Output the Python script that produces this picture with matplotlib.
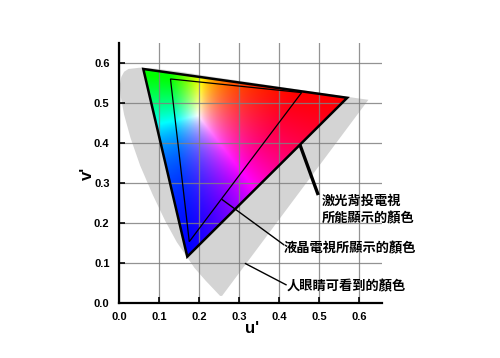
import numpy as np
import matplotlib
matplotlib.use('Agg')
import matplotlib.pyplot as plt
from matplotlib.patches import Polygon

plt.rcParams['font.family'] = ['Liberation Sans', 'DejaVu Sans']

locus_u = [0.257, 0.252, 0.235, 0.216, 0.188, 0.144, 0.115, 0.083, 0.052, 0.028, 0.012,
           0.004, 0.001, 0.005, 0.012, 0.023, 0.050, 0.079, 0.113, 0.153, 0.203,
           0.262, 0.332, 0.404, 0.520, 0.601, 0.623]
locus_v = [0.017, 0.017, 0.035, 0.055, 0.087, 0.151, 0.204, 0.271, 0.343, 0.412, 0.470,
           0.513, 0.543, 0.564, 0.577, 0.584, 0.587, 0.586, 0.582, 0.577, 0.569,
           0.560, 0.550, 0.539, 0.522, 0.510, 0.507]

# laser TV gamut (green, red, blue)
laser_u = [0.060, 0.570, 0.170]
laser_v = [0.584, 0.512, 0.115]

# LCD TV gamut
lcd_u = [0.128, 0.456, 0.175]
lcd_v = [0.559, 0.525, 0.1525]

labels = ['激光背投電視\n所能顯示的顏色', '液晶電視所顯示的顏色', '人眼睛可看到的顏色']
label_from = [(0.452, 0.394), (0.256, 0.2585), (0.314, 0.0985)]
label_to = [(0.4975, 0.269), (0.4125, 0.144), (0.4185, 0.044)]
label_at = [(0.506, 0.2325), (0.410, 0.136), (0.4185, 0.040)]
label_lw = [2.4, 1.0, 1.0]

fig = plt.figure(figsize=(5, 3.58), dpi=100)
ax = fig.add_axes([0.2386, 0.1545, 0.5254, 0.7255])
ax.set_xlim(0, 0.657)
ax.set_ylim(0, 0.649)

# grey area: what the eye can see
ax.add_patch(Polygon(np.column_stack([locus_u, locus_v]), closed=True,
                     facecolor='#d4d4d4', edgecolor='none', zorder=1))

# colour fill of the laser triangle (u'v' -> rgb, no gamma so it stays saturated)
uu, vv = np.meshgrid(np.linspace(0, 0.66, 400), np.linspace(0, 0.65, 400))
d = 6 * uu - 16 * vv + 12
x = 9 * uu / d
y = np.clip(4 * vv / d, 1e-4, None)
X = x / y
Z = (1 - x - y) / y
M = np.array([[3.2406, -1.5372, -0.4986],
              [-0.9689, 1.8758, 0.0415],
              [0.0557, -0.2040, 1.0570]])
rgb = np.einsum('ij,jhw->hwi', M, np.stack([X, np.ones_like(X), Z]))
rgb = np.clip(rgb, 0, None)
rgb = rgb / rgb.max(axis=2, keepdims=True)
rgb = np.clip(rgb, 0, 1)

tri = Polygon(np.column_stack([laser_u, laser_v]), closed=True, facecolor='none',
              edgecolor='black', lw=1.8, zorder=4, joinstyle='miter')
ax.add_patch(tri)
im = ax.imshow(rgb, origin='lower', extent=(0, 0.66, 0, 0.65), aspect='auto',
               interpolation='bilinear', zorder=2)
im.set_clip_path(tri)
ax.add_patch(Polygon(np.column_stack([lcd_u, lcd_v]), closed=True, facecolor='none',
                     edgecolor='black', lw=0.9, zorder=4))

ax.grid(True, color='#808080', lw=0.9, alpha=0.85, zorder=3)
ax.set_axisbelow(False)
for g in ax.get_xgridlines() + ax.get_ygridlines():
    g.set_zorder(3)

ax.set_xticks(np.arange(0, 0.61, 0.1))
ax.set_yticks(np.arange(0, 0.61, 0.1))
ax.set_xticklabels(['0.0', '0.1', '0.2', '0.3', '0.4', '0.5', '0.6'])
ax.set_yticklabels(['0.0', '0.1', '0.2', '0.3', '0.4', '0.5', '0.6'])
ax.tick_params(direction='in', length=4, width=1.2, labelsize=8, pad=7)
for t in ax.get_xticklabels() + ax.get_yticklabels():
    t.set_fontweight('bold')
for s in ['top', 'right']:
    ax.spines[s].set_visible(False)
for s in ['left', 'bottom']:
    ax.spines[s].set_linewidth(1.6)
    ax.spines[s].set_zorder(5)

ax.text(0.333, -0.064, "u'", fontsize=12, fontweight='bold', ha='center', va='center',
        clip_on=False)
ax.text(-0.080, 0.322, "v'", fontsize=12, fontweight='bold', ha='center', va='center',
        rotation=90, clip_on=False)

for lab, p0, p1, p2, lw in zip(labels, label_from, label_to, label_at, label_lw):
    ax.plot([p0[0], p1[0]], [p0[1], p1[1]], color='black', lw=lw, zorder=6,
            clip_on=False, solid_capstyle='butt')
    ax.text(p2[0], p2[1], lab, fontsize=9.5, ha='left', va='center', linespacing=1.25,
            family=['Noto Sans CJK TC', 'DejaVu Sans'], fontweight='bold',
            color='black', zorder=6, clip_on=False)

fig.savefig('out.png', dpi=100)
